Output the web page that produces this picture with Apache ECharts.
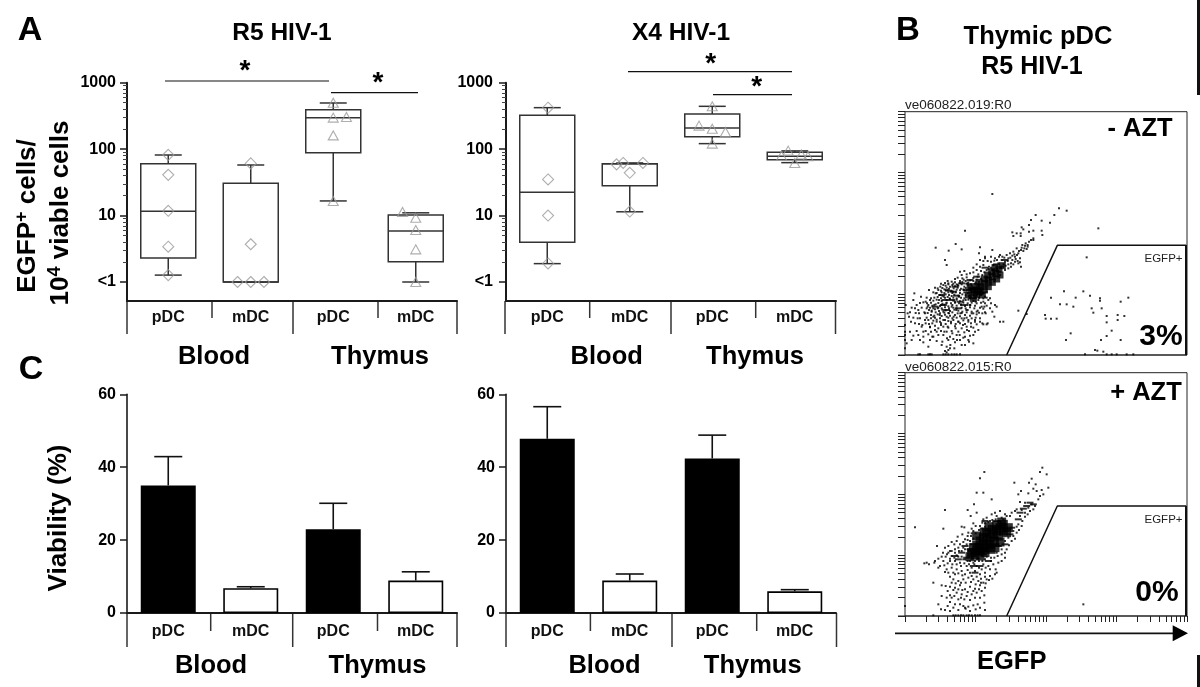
<!DOCTYPE html>
<html><head><meta charset="utf-8">
<style>html,body{margin:0;padding:0;background:#fff}#c{width:1200px;height:687px}</style>
<script src="https://cdn.jsdelivr.net/npm/echarts@6/dist/echarts.min.js"></script>
</head><body><div id="c"></div>
<script>
const categories = ['pDC','mDC','pDC','mDC'];
const logMajor = [1,10,100,1000];
const logMinor = [2,3,4,5,6,7,8,9,20,30,40,50,60,70,80,90,200,300,400,500,600,700,800,900];
// [category, low, q1, median, q3, high]
const r5Boxes = [[0,1.27,2.3,11.6,60.4,81.6],[1,1,1,1,30.6,57.7],[2,16.6,88.5,298,393,495],[3,1,2.02,5.86,10.2,11]];
const x4Boxes = [[0,1.89,3.95,22.4,323,421],[1,11.4,28.2,60,60.5,62],[2,121,154,208,338,441],[3,62.6,69.4,78,89.5,94]];
const r5Diamonds = [[0.5,82],[0.5,41],[0.5,11.8],[0.5,3.4],[0.5,1.27],[1.34,1],[1.5,1],[1.66,1],[1.5,3.7],[1.5,61]];
const r5Triangles = [[2.5,500],[2.5,298],[2.66,305],[2.5,161],[2.5,16.6],[3.34,11.3],[3.5,9.3],[3.5,6.05],[3.5,3.1],[3.5,1]];
const x4Diamonds = [[0.51,420],[0.51,35],[0.51,10],[0.51,1.9],[1.34,59],[1.42,62],[1.5,44],[1.5,11.5],[1.66,62]];
const x4Triangles = [[2.34,226],[2.5,203],[2.66,181],[2.5,441],[2.5,121],[3.34,79.5],[3.42,95],[3.5,62],[3.58,83],[3.66,78]];
const r5Viability = [35,6.8,23,8.9];
const r5ViabilityTop = [42.9,7.2,30.1,11.3];
const x4Viability = [47.8,8.9,42.4,5.95];
const x4ViabilityTop = [56.6,10.7,48.8,6.4];
const flowTicks = [1,2,3,4,5,6,7,8,9,10,20,30,40,50,60,70,80,90,100,200,300,400,500,600,700,800,900,1000,2000,3000,4000,5000,6000,7000,8000,9000,10000];
const gateTop = [[305,0],[457,329],[843,329],[843,0]];
const gateBottom = [[305,0],[457,330],[843,330],[843,0]];
// flow events, [EGFP channel, side channel]
const topDots = [[2,150],[8,125],[12,115],[18,100],[25,165],[28,185],[35,150],[40,135],[45,110],[48,175],[52,90],[55,70],[60,125],[62,160],[68,145],[70,105],[72,195],[75,85],[78,170],[80,130],[82,55],[85,115],[88,150],[90,75],[92,185],[95,100],[98,140],[100,60],[102,165],[104,120],[106,205],[108,90],[110,150],[112,40],[115,130],[116,175],[118,70],[120,105],[122,195],[124,155],[126,50],[128,85],[130,215],[132,125],[134,170],[136,30],[138,100],[140,145],[142,65],[144,190],[146,115],[148,20],[150,160],[152,80],[154,135],[156,45],[158,210],[160,100],[162,175],[164,60],[166,125],[168,150],[170,30],[172,230],[174,90],[176,195],[178,110],[180,55],[182,165],[184,135],[186,75],[188,215],[190,105],[192,40],[194,180],[196,150],[198,85],[200,125],[205,60],[208,200],[210,100],[212,160],[215,130],[218,235],[220,75],[225,110],[228,180],[232,95],[238,145],[242,125],[248,95],[255,140],[262,130],[268,115],[275,145],[285,100],[295,100],
[115,210],[122,208],[135,205],[142,210],[150,206],[160,208],[170,212],[178,205],[190,210],[200,208],[100,195],[108,193],[118,197],[128,195],[140,192],[155,196],[165,194],[175,197],[185,193],[198,195],[210,192],[105,180],[112,178],[122,182],[132,180],[140,177],[148,181],[160,178],[172,182],[182,179],[192,176],[205,180],[215,178],[228,182],[240,175],[75,165],[85,163],[95,166],[110,162],[125,165],[135,168],[145,163],[155,166],[165,161],[175,164],[190,166],[205,162],[220,165],[235,160],[250,165],[70,150],[82,148],[92,152],[105,147],[118,151],[130,146],[142,150],[155,148],[168,152],[180,147],[195,150],[210,148],[230,145],[245,148],[270,150],[72,135],[80,133],[90,137],[102,132],[112,136],[122,134],[135,132],[148,136],[160,133],[172,130],[188,135],[200,130],[218,133],[240,128],[78,120],[88,118],[98,122],[110,117],[120,121],[125,115],[135,118],[150,120],[165,116],[180,120],[195,118],[215,122],[60,105],[85,103],[95,106],[105,100],[115,105],[130,102],[145,105],[160,100],[175,104],[190,100],[210,105],[225,100],[50,85],[75,83],[90,88],[100,80],[115,85],[130,82],[150,86],[170,80],[185,85],[205,82],[235,92],[245,92],[25,58],[40,60],[55,55],[70,62],[85,55],[115,60],[135,55],[155,60],[175,52],[195,58],[5,35],[55,38],[70,25],[110,30],[125,25],[150,38],[180,30],[205,35],[40,2],[45,2],[70,2],[75,2],[80,2],[115,2],[122,2],[130,2],[140,2],[148,2],[155,2],[165,2],[0,20],[0,45],[0,70],[0,90],[0,60],
[225,265],[235,270],[240,290],[245,255],[252,265],[258,280],[262,255],[265,270],[270,290],[275,260],[280,275],[285,300],[290,285],[295,265],[300,280],[305,300],[310,290],[315,305],[318,275],[322,285],[325,310],[330,295],[335,320],[340,305],[345,290],[348,315],[352,330],[358,320],[362,335],[368,325],[372,340],[378,345],[385,350],[340,275],[348,265],[300,255],[285,240],[310,260],
[392,420],[378,405],[372,390],[350,383],[355,377],[410,403],[435,397],[448,420],[322,368],[335,365],[347,365],[325,357],[347,357],[372,370],[385,373],[410,373],[412,360],[385,345],[368,330],[180,373],[152,333],[92,322],[131,313],[170,317],[225,323],[120,285],[125,270],[222,305],[240,295],[262,315],[262,483],[462,440],[485,433],[580,380],
[545,293],[477,191],[535,191],[555,178],[585,170],[585,163],[647,160],[670,172],[438,172],[465,152],[485,152],[512,172],[505,145],[560,140],[565,127],[590,140],[605,117],[638,120],[658,117],[638,105],[605,98],[420,120],[422,109],[438,109],[455,109],[340,133],[365,123],[497,65],[483,45],[620,73],[605,57],[588,45],[647,45],[570,15],[577,13],[595,10],[605,2],[620,2],[635,2],[540,2],[665,2],[685,2],
[150,228],[158,232],[176,226],[185,233],[196,224],[205,231],[215,226],[228,229],[128,222],[140,220],[150,218],[165,222],[172,219],[182,222],[190,218],[205,222],[212,218],[222,220],[108,214],[120,216],[130,212],[145,214],[155,212],[165,216],[184,214],[198,212],[210,214],[90,202],[98,200],[112,201],[125,202],[132,199],[146,200],[158,202],[168,199],[182,201],[195,199],[204,201],[215,203],[85,188],[95,186],[110,188],[118,186],[130,188],[142,186],[152,188],[165,186],[178,188],[188,186],[200,188],[225,189],[235,186],[245,190],[65,172],[88,172],[98,174],[108,170],[120,172],[128,174],[145,172],[155,170],[168,172],[178,170],[195,172],[212,170],[222,172],[235,170],[245,172],[255,170],[45,156],[55,158],[66,155],[78,157],[100,156],[112,154],[125,157],[138,155],[150,157],[162,155],[175,157],[188,155],[200,157],[215,155],[228,157],[240,155],[258,155],[20,142],[30,140],[50,142],[65,140],[75,142],[85,140],[100,142],[110,140],[120,143],[132,140],[145,142],[155,140],[170,142],[182,140],[195,143],[208,140],[225,142],[235,139],[15,128],[32,126],[42,125],[58,128],[68,126],[92,128],[105,125],[118,127],[130,126],[142,128],[158,125],[170,126],[185,128],[205,125],[222,127],[232,125],[25,112],[38,110],[65,112],[78,110],[90,112],[105,110],[130,112],[142,110],[155,112],[170,110],[185,112],[200,110],[212,112],[30,95],[42,93],[62,95],[72,93],[82,95],[108,95],[122,93],[138,95],[152,93],[165,95],[180,93],[198,95],[215,92],[15,70],[35,72],[62,72],[78,70],[95,70],[108,72],[125,70],[140,72],[160,70],[178,68],[192,72],[210,70],[20,45],[45,45],[75,45],[95,42],[130,45],[145,48],[165,45],[190,45],[120,12],[130,15],[125,8],[135,20],
[232,240],[238,248],[228,252],[250,258],[258,262],[268,248],[275,252],[284,250],[288,262],[296,272],[302,268],[308,282],[316,292],[322,298],[328,302],[332,288],[336,300],[342,312],[350,322],[355,312],[360,328],[365,318],[310,272],[318,265],[325,272],[330,280],[338,282],[345,278],[268,283],[276,285],[282,295],[292,295],[298,292],[258,295],[248,282],[235,282],[225,285],[215,272],[205,262],[195,245],[205,248],[215,255],[220,242],[185,242],[170,240],[178,252],[165,250]];
const topDashes = [[110,180],[130,193],[150,205],[170,215],[140,165],[165,160],[115,150],[90,145],[125,135],[185,195],[155,178],[200,170],[145,190],[120,165],[180,150],[160,140],[195,225],[215,235],[240,262],[275,272],[300,285]];
const topCore = [[250,225],[262,235],[272,245],[282,258],[240,215],[228,205],[250,205],[262,218],[275,228],[238,195],[220,195],[208,190],[195,205],[215,180],[232,180],[205,170],[190,180],[292,268],[248,240],[215,205],[225,190],[200,195],[260,250],[270,262],[238,228],[285,240],[222,218]];
const bottomDots = [[412,445],[405,432],[425,425],[238,432],[225,413],[328,400],[380,412],[372,400],[392,395],[385,382],[348,375],[340,365],[370,368],[395,375],[410,378],[415,365],[405,360],[400,350],[430,385],[215,370],[235,370],[260,350],[345,342],[360,340],[380,335],[370,325],[390,330],[385,320],[360,310],[207,335],[120,318],[188,318],[215,310],[197,300],[30,266],[115,262],[270,310],[285,315],[300,305],[315,300],[335,320],[350,318],[235,290],[245,295],[260,305],[255,285],[275,300],[290,295],[305,300],[320,310],[330,315],
[170,268],[178,266],[200,262],[205,278],[212,270],[225,270],[232,280],[240,278],[200,248],[188,240],[172,245],[158,238],[155,225],[148,215],[140,222],[130,210],[120,205],[135,195],[150,200],[162,195],[175,205],[185,215],[195,225],[96,210],[114,190],[126,185],[140,180],[155,182],[170,178],[180,170],[195,165],[205,160],[222,165],[240,170],[258,175],[275,190],[290,200],[300,225],[310,235],[325,240],[335,250],[305,200],[300,175],[290,165],[250,150],[235,155],[215,150],[200,145],[185,150],[165,160],[150,165],[135,165],[115,165],[100,172],[90,165],[58,158],[65,160],[72,155],[88,160],
[100,145],[125,140],[140,145],[155,140],[170,135],[180,125],[195,130],[210,135],[225,125],[240,130],[255,120],[270,125],[275,130],[150,125],[135,118],[120,132],[145,110],[160,105],[175,110],[190,115],[205,110],[220,105],[235,100],[245,110],[85,100],[110,92],[122,90],[135,88],[150,85],[165,92],[180,80],[195,88],[210,82],[225,92],[240,85],[155,70],[170,65],[185,60],[200,65],[215,70],[230,75],[140,55],[160,50],[135,42],[150,35],[175,30],[182,22],[190,28],[205,32],[218,35],[240,18],[100,35],[120,18],[108,20],[135,15],[160,18],[180,25],[85,2],[145,2],[152,2],[160,2],[168,2],[175,2],[185,2],[192,2],[200,2],[210,2],[218,2],[225,2],[0,30],[535,35],
[190,250],[198,240],[205,255],[212,248],[222,258],[232,262],[240,268],[250,282],[262,288],[272,290],[282,285],[295,290],[180,230],[188,228],[198,215],[205,232],[175,222],[165,215],[160,205],[170,195],[180,200],[190,195],[200,190],[150,190],[140,195],[130,190],[122,178],[135,172],[148,175],[160,178],[175,170],[188,165],[200,172],[210,165],[220,172],[232,165],[245,178],[258,165],[268,175],[278,180],[290,185],[300,190],[312,212],[320,225],[330,232],[342,258],[350,270],[340,275],[352,285],[360,298],[368,305],[375,315],[345,300],[335,268],[325,255],
[110,178],[105,150],[118,152],[128,158],[142,155],[155,155],[168,150],[178,158],[192,155],[208,155],[222,145],[230,140],[242,145],[255,140],[265,155],[280,160],[272,140],[130,130],[145,130],[160,128],[172,122],[188,138],[200,120],[215,118],[228,112],[240,118],[252,108],[262,112],[140,100],[152,98],[168,100],[182,100],[198,102],[212,95],[228,100],[242,98],[128,75],[145,78],[160,80],[172,78],[188,72],[205,75],[222,80],[238,62],[148,60],[168,55],[178,50],[195,48],[210,55],[225,55],[110,60],[125,55],[135,62],[128,30],[145,25],[165,35],[195,15],[212,20],[225,25],[238,40]];
const bottomDashes = [[345,310],[355,322],[365,330],[375,340],[385,335],[170,190],[185,175],[195,200],[160,170],[215,215],[280,210],[320,265],[340,290],[150,180],[180,210],[205,150],[225,150],[250,165],[300,215],[315,245],[240,285],[275,285],[210,130]];
const bottomCore = [[255,235],[265,245],[275,255],[285,265],[295,275],[245,225],[235,215],[225,205],[255,215],[268,225],[280,240],[245,205],[232,195],[218,195],[210,183],[225,180],[240,190],[258,200],[295,255],[310,265],[262,260],[245,250],[235,235],[205,205],[215,240],[225,225],[238,252],[252,268],[275,272],[290,282],[305,250],[215,212],[200,190],[270,205],[285,222],[195,178]];

const FF = '"Liberation Sans", Arial, sans-serif';
const INK = '#1a1a1a';
const grid=[], xAxis=[], yAxis=[], series=[], graphic=[];

function text(t,x,y,size,opt){
  opt=opt||{};
  graphic.push({type:'text',x:x,y:y,rotation:opt.rotation||0,silent:true,style:Object.assign({text:t,fontFamily:FF,fontSize:size,fontWeight:opt.weight||'bold',fill:opt.fill||'#000',align:opt.align||'center',verticalAlign:'middle'},opt.style||{})});
}
function seg(x1,y1,x2,y2,w,col){
  graphic.push({type:'line',silent:true,shape:{x1:x1,y1:y1,x2:x2,y2:y2},style:{stroke:col||INK,lineWidth:w||1.5}});
}
function catAxis(gi,margin){
  return {gridIndex:gi,type:'category',data:categories,
    axisLine:{lineStyle:{color:INK,width:2}},axisTick:{show:false},
    axisLabel:{interval:0,margin:margin,fontFamily:FF,fontSize:16,fontWeight:'bold',color:'#111'}};
}
function boxRender(params,api){
  const x=api.value(0);
  const pts=[1,2,3,4,5].map(k=>api.coord([x,api.value(k)]));
  const cx=pts[0][0], hw=27.5, cap=13.5;
  const st={stroke:'#333',lineWidth:1.5,fill:null};
  const L=(a,b,c,d)=>({type:'line',shape:{x1:a,y1:b,x2:c,y2:d},style:st});
  return {type:'group',children:[
    L(cx,pts[0][1],cx,pts[1][1]),L(cx,pts[3][1],cx,pts[4][1]),
    L(cx-cap,pts[0][1],cx+cap,pts[0][1]),L(cx-cap,pts[4][1],cx+cap,pts[4][1]),
    {type:'rect',shape:{x:cx-hw,y:pts[3][1],width:hw*2,height:pts[1][1]-pts[3][1]},style:{stroke:'#333',lineWidth:1.5,fill:'#fff'}},
    L(cx-hw,pts[2][1],cx+hw,pts[2][1])
  ]};
}
function errRender(params,api){
  const a=api.coord([api.value(0),api.value(1)]), b=api.coord([api.value(0),api.value(2)]);
  const st={stroke:'#111',lineWidth:1.6,fill:null};
  return {type:'group',children:[
    {type:'line',shape:{x1:a[0],y1:a[1],x2:b[0],y2:b[1]},style:st},
    {type:'line',shape:{x1:a[0]-14,y1:b[1],x2:a[0]+14,y2:b[1]},style:st}
  ]};
}
function boxPanel(left,boxes,diamonds,triangles,labelMargin){
  const g=grid.length;
  grid.push({left:left,top:82.7,width:330,height:218.3});
  const xc=xAxis.length; xAxis.push(catAxis(g,9));
  const xv=xAxis.length; xAxis.push({gridIndex:g,type:'value',min:0,max:4,show:false});
  const y=yAxis.length;
  yAxis.push({gridIndex:g,type:'log',position:'left',logBase:10,min:0.5176,max:1000,splitLine:{show:false},
    axisLine:{show:true,lineStyle:{color:INK,width:2}},
    axisTick:{show:true,length:7,customValues:logMajor,lineStyle:{color:INK,width:1.5}},
    axisLabel:{customValues:logMajor,margin:labelMargin,fontFamily:FF,fontSize:16,fontWeight:'bold',color:'#000',formatter:v=>Math.round(v)===1?'<1':String(Math.round(v))}});
  yAxis.push({gridIndex:g,type:'log',position:'left',logBase:10,min:0.5176,max:1000,splitLine:{show:false},
    axisLine:{show:false},axisLabel:{show:false},
    axisTick:{show:true,length:4,customValues:logMinor,lineStyle:{color:'#444',width:1}}});
  series.push({type:'custom',xAxisIndex:xc,yAxisIndex:y,data:boxes,encode:{x:0,y:[1,2,3,4,5]},renderItem:boxRender,clip:false,silent:true,z:2});
  const sym=(d,s,size)=>({type:'scatter',xAxisIndex:xv,yAxisIndex:y,data:d,symbol:s,symbolSize:size,silent:true,clip:false,z:3,
    itemStyle:{color:'rgba(255,255,255,0)',borderColor:'#9a9a9a',borderWidth:1.1}});
  series.push(sym(diamonds,'diamond',[11,11]));
  series.push(sym(triangles,'triangle',[10,9]));
}
function barPanel(left,vals,tops){
  const g=grid.length;
  grid.push({left:left,top:394.3,width:330,height:218.7});
  const xc=xAxis.length; xAxis.push(catAxis(g,11));
  const y=yAxis.length;
  yAxis.push({gridIndex:g,type:'value',position:'left',min:0,max:60,interval:20,splitLine:{show:false},
    axisLine:{show:true,lineStyle:{color:INK,width:1.6}},
    axisTick:{show:true,length:7,lineStyle:{color:INK,width:1.5}},
    axisLabel:{margin:11,fontFamily:FF,fontSize:16,fontWeight:'bold',color:'#000'}});
  series.push({type:'bar',xAxisIndex:xc,yAxisIndex:y,barWidth:55,silent:true,z:2,
    data:vals.map((v,i)=>({value:v,itemStyle:{color:i%2?'#fff':'#000',borderColor:'#000',borderWidth:1.6}}))});
  series.push({type:'custom',xAxisIndex:xc,yAxisIndex:y,data:vals.map((v,i)=>[i,v,tops[i]]),encode:{x:0,y:[1,2]},renderItem:errRender,silent:true,clip:false,z:3});
}
function flowPanel(top,height,gate,dots,dashes,core,xTicks,coreSize){
  const g=grid.length;
  grid.push({left:905,top:top,width:282,height:height,show:true,borderColor:'#222',borderWidth:1,backgroundColor:'#fff'});
  const xv=xAxis.length;
  xAxis.push({gridIndex:g,type:'value',min:0,max:846,show:false});
  xAxis.push({gridIndex:g,type:'log',position:'bottom',logBase:10,min:1,max:10000,show:xTicks,splitLine:{show:false},axisLabel:{show:false},
    axisLine:{show:false},axisTick:{show:true,length:6,customValues:flowTicks,lineStyle:{color:'#222',width:1}}});
  const yv=yAxis.length;
  yAxis.push({gridIndex:g,type:'value',min:0,max:730,show:false});
  yAxis.push({gridIndex:g,type:'log',position:'left',logBase:10,min:1,max:10000,splitLine:{show:false},axisLabel:{show:false},
    axisLine:{show:false},axisTick:{show:true,length:7,customValues:flowTicks,lineStyle:{color:'#222',width:1}}});
  const sc=(d,size)=>({type:'scatter',xAxisIndex:xv,yAxisIndex:yv,data:d,symbol:'rect',symbolSize:size,silent:true,itemStyle:{color:'#000'},z:2});
  series.push(sc(core,[coreSize,coreSize]));
  series.push(sc(dashes,[7,2]));
  series.push(sc(dots,[2,2]));
  series.push({type:'line',xAxisIndex:xv,yAxisIndex:yv,data:gate,symbol:'none',silent:true,lineStyle:{color:'#111',width:1.5},z:3});
}
boxPanel(127,r5Boxes,r5Diamonds,r5Triangles,11);
boxPanel(506,x4Boxes,x4Diamonds,x4Triangles,13);
barPanel(127,r5Viability,r5ViabilityTop);
barPanel(506,x4Viability,x4ViabilityTop);
flowPanel(111.7,243.3,gateTop,topDots,topDashes,topCore,false,7);
flowPanel(372.7,243.3,gateBottom,bottomDots,bottomDashes,bottomCore,true,9);

text('A',30,31,34); text('B',908,31,33); text('C',31,370,34);
text('R5 HIV-1',282,33,24.5); text('X4 HIV-1',681,33,24.5);
text('Thymic pDC',1038,37,25.5); text('R5 HIV-1',1032,67,25);
const rich={a:{fontFamily:FF,fontSize:26,fontWeight:'bold',fill:'#000',lineHeight:30},s:{fontFamily:FF,fontSize:18,fontWeight:'bold',fill:'#000',verticalAlign:'top',lineHeight:30}};
text('{a|EGFP}{s|+}{a| cells/}',28,216,26,{rotation:Math.PI/2,style:{rich:rich}});
text('{a|10}{s|4}{a| viable cells}',61,213,26,{rotation:Math.PI/2,style:{rich:rich}});
text('Viability (%)',59,518,26,{rotation:Math.PI/2});
text('Blood',214,357,25.5); text('Thymus',380,357,25.5);
text('Blood',606.7,357,25.5); text('Thymus',755,357,25.5);
text('Blood',211,666,25.5); text('Thymus',377.5,666,25.5);
text('Blood',604.5,666,25.5); text('Thymus',752.7,666,25.5);
function brackets(xs,y0,yLong,yShort){
  xs.forEach((x,i)=>seg(x,y0,x,i%2?yShort:yLong,1.5,'#333'));
}
brackets([127,212,293,378,457],301,334,318);
brackets([505,589.7,671,755.7,835.5],301,334,318);
brackets([127,210.7,292.7,377.5,457],613,647,631);
brackets([506,590.4,672,756.7,836.5],613,647,631);
seg(165,81,329,81,1.2,'#111'); seg(331,92.7,418,92.7,1.2,'#111');
seg(628,71.7,792,71.7,1.2,'#111'); seg(713,94.7,792,94.7,1.2,'#111');
text('*',245,71,28); text('*',378,83,28); text('*',710.7,64,28); text('*',756.7,87,28);
text('ve060822.019:R0',905,105.7,13.5,{align:'left',weight:'normal',fill:'#222'});
text('ve060822.015:R0',905,367,13.5,{align:'left',weight:'normal',fill:'#222'});
text('- AZT',1140,129.3,25.5); text('+ AZT',1146,393.3,25.5);
text('3%',1161,336.7,30); text('0%',1157,593,30);
text('EGFP+',1163.5,259.3,11.5,{weight:'normal',fill:'#222'}); text('EGFP+',1163.5,520,11.5,{weight:'normal',fill:'#222'});
text('EGFP',1011.7,662,25.5);
seg(898,355,1187,355,1.2,'#222'); seg(898,616,1187,616,1.2,'#222');
seg(1186,245.3,1186,355,2,'#111'); seg(1186,506,1186,616,2,'#111');
seg(895,633.3,1175,633.3,1.8,'#111');
graphic.push({type:'polygon',silent:true,shape:{points:[[1172.7,625.3],[1188,633.3],[1172.7,641.3]]},style:{fill:'#000'}});
seg(1198.5,0,1198.5,95,3,'#111'); seg(1198.5,655,1198.5,687,3,'#111');

echarts.init(document.getElementById('c'),null,{renderer:'canvas'}).setOption({
  animation:false,backgroundColor:'#fff',grid:grid,xAxis:xAxis,yAxis:yAxis,series:series,
  graphic:{elements:graphic}
});
</script></body></html>
